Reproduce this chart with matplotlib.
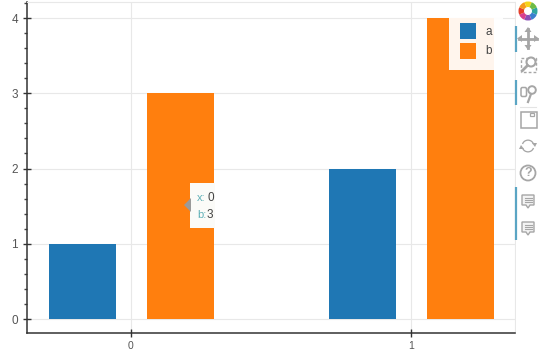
import matplotlib
matplotlib.use("Agg")
import matplotlib.pyplot as plt
from matplotlib.patches import Rectangle, Circle, Wedge, Polygon, FancyBboxPatch
from matplotlib.ticker import MultipleLocator

plt.rcParams['font.family'] = ['Liberation Sans', 'DejaVu Sans']

# data
groups = [0, 1]
a = [1, 2]
b = [3, 4]
y_ticks = [0, 1, 2, 3, 4]
tip_x = "0"
tip_b = "3"

blue = '#1f77b4'
orange = '#ff7f0e'
grey = '#a6a6a6'
teal = '#5aa5c4'

W, H = 540, 351
fig = plt.figure(figsize=(W/100, H/100), dpi=100)
ax = fig.add_axes([27/W, 1-333/H, (515-27)/W, (333-2)/H])

width = 0.24
bars_a = ax.bar([g-0.173 for g in groups], a, width, color=blue, label='a', zorder=2)
bars_b = ax.bar([g+0.177 for g in groups], b, width, color=orange, label='b', zorder=2)

ax.set_xlim(-0.371, 1.371)
ax.set_ylim(-0.186, 4.213)
ax.set_xticks(groups)
ax.set_yticks(y_ticks)
ax.yaxis.set_minor_locator(MultipleLocator(0.2))
ax.grid(True, color='#e8e8e8', lw=0.8, zorder=0)
ax.set_axisbelow(True)

ax.tick_params(axis='both', which='major', direction='inout', length=6, width=1,
               color='#333333', labelcolor='#555555', labelsize=7.5)
ax.tick_params(axis='y', which='major', pad=3.5, labelsize=8.5)
ax.tick_params(axis='x', which='major', pad=3)
ax.tick_params(axis='y', which='minor', direction='out', length=2.5, width=1, color='#444444')
for s in ['top', 'right']:
    ax.spines[s].set_color('#e8e8e8')
    ax.spines[s].set_linewidth(0.8)
for s in ['left', 'bottom']:
    ax.spines[s].set_color('#333333')
    ax.spines[s].set_linewidth(1.1)

leg = ax.legend(loc='upper left', bbox_to_anchor=((449-27)/(515-27), 1-(12-2)/(333-2)),
                borderaxespad=0, fontsize=8.5, handlelength=1.35, handleheight=1.7,
                handletextpad=0.75, labelspacing=0.3, borderpad=0.95,
                fancybox=False, framealpha=0.93, edgecolor='none', labelcolor='#444444')
leg.set_zorder(5)

# overlay in pixel coordinates for the tooltip and the toolbar
ov = fig.add_axes([0, 0, 1, 1], zorder=10)
ov.set_xlim(0, W)
ov.set_ylim(H, 0)
ov.axis('off')

# tooltip
ov.add_patch(Rectangle((190, 183), 25, 45, color='#fbfbf8', lw=0))
ov.add_patch(Polygon([[184, 205], [191, 198], [191, 212]], color='#9a9a9a', lw=0))
ov.text(197, 198, "x:", fontsize=8, color='#5fb0b7', va='center')
ov.text(207, 198, tip_x, fontsize=8.5, color='#444444', va='center')
ov.text(197, 215, "b:", fontsize=8, color='#5fb0b7', va='center')
ov.text(207, 215, tip_b, fontsize=8.5, color='#444444', va='center')

# toolbar
ov.add_patch(Rectangle((516, 0), 24, H, color='white', lw=0))
for y0, y1 in [(26, 52), (80, 105), (187, 240)]:
    ov.plot([515.5, 515.5], [y0, y1], color=teal, lw=1.6, solid_capstyle='butt')

# logo, clockwise from the right
logo = ['#2fa6a0', '#3a7fcf', '#8a4fb8', '#d9408f', '#e5402a', '#f59a1c', '#f5d41a', '#6dbb45']
for i, c in enumerate(logo):
    ov.add_patch(Wedge((528, 11), 9.5, i*45-22, (i+1)*45-22, width=5.5, color=c, lw=0))

# pan
ov.plot([528, 528], [29, 48], color=grey, lw=2)
ov.plot([519, 537], [38.5, 38.5], color=grey, lw=2)
for pts in ([[528, 27], [524.5, 32], [531.5, 32]], [[528, 50], [524.5, 45], [531.5, 45]],
            [[517, 38.5], [522, 35], [522, 42]], [[539, 38.5], [534, 35], [534, 42]]):
    ov.add_patch(Polygon(pts, color=grey, lw=0))

# box zoom
ov.add_patch(Rectangle((520.5, 58), 15, 14, fill=False, ec=grey, lw=1, ls=(0, (2, 1.5))))
ov.add_patch(Circle((531, 62), 4.5, fill=True, fc='white', ec=grey, lw=1.5))
ov.plot([527.5, 522.5], [65.5, 70.5], color=grey, lw=2)

# wheel zoom
ov.add_patch(FancyBboxPatch((522.5, 89), 2.5, 6, boxstyle="round,pad=1.5", fill=False, ec=grey, lw=1.1))
ov.add_patch(Circle((532, 90), 3.8, fill=False, ec=grey, lw=1.4))
ov.plot([531, 528], [94, 102], color=grey, lw=1.6)
ov.plot([520, 536], [107, 107], color='#e4e4e4', lw=0.8)

# save
ov.add_patch(Rectangle((520.5, 112), 16, 15.5, fill=False, ec=grey, lw=1.1))
ov.add_patch(Rectangle((529.5, 112.5), 4, 3.5, fill=False, ec=grey, lw=0.9))

# reset
ov.add_patch(Wedge((528, 146), 6.5, 200, 340, width=1.3, color=grey, lw=0))
ov.add_patch(Wedge((528, 146), 6.5, 20, 160, width=1.3, color=grey, lw=0))
ov.add_patch(Polygon([[532, 143], [537, 143], [535, 147]], color=grey, lw=0))
ov.add_patch(Polygon([[519, 149], [524, 149], [521, 145]], color=grey, lw=0))

# help
ov.add_patch(Circle((528, 173), 7.5, fill=False, ec=grey, lw=1.3))
ov.text(528, 173.5, "?", fontsize=9, fontweight='bold', color=grey, ha='center', va='center')

# hover icons
for y in [195, 222]:
    ov.add_patch(Polygon([[522, y], [534, y], [534, y+10], [530, y+10], [528, y+13],
                          [526, y+10], [522, y+10]], fc='#f4f4f4', ec=grey, lw=1))
    for dy in [3, 5, 7]:
        ov.plot([524.5, 531.5], [y+dy, y+dy], color=grey, lw=0.8)

fig.savefig('out.png', dpi=100)
